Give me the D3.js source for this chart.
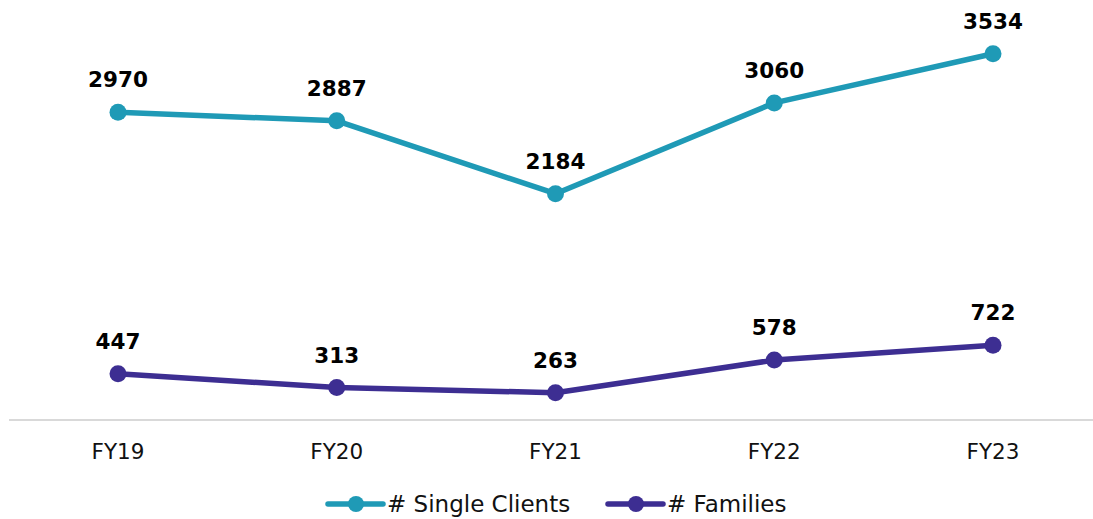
<!DOCTYPE html>
<html><head><meta charset="utf-8">
<script src="https://cdn.jsdelivr.net/npm/d3@7"></script>
<style>body{margin:0;background:#fff}svg{display:block}</style>
</head><body>
<svg id="c" width="1093" height="519"></svg>
<script>
const categories = ["FY19","FY20","FY21","FY22","FY23"];
const singleClients = [2970,2887,2184,3060,3534];
const families = [447,313,263,578,722];
const seriesNames = ["# Single Clients","# Families"];
const colors = ["#1f9ab6","#3d2e92"];

const svg = d3.select("#c");
const font = "'DejaVu Sans', sans-serif";
const x = d3.scalePoint().domain(categories).range([118,993]);
const y = d3.scaleLinear().domain([0,4000]).range([420,5.5]);

svg.append("line").attr("x1",9).attr("x2",1093).attr("y1",420).attr("y2",420)
  .attr("stroke","#d9d9d9").attr("stroke-width",2);

svg.append("g").selectAll("text").data(categories).join("text")
  .attr("x",d=>x(d)).attr("y",459).attr("text-anchor","middle")
  .attr("font-family",font).attr("font-size",21.5).attr("fill","#111").text(d=>d);

const series = [singleClients, families];
series.forEach((vals,i)=>{
  const g = svg.append("g");
  const line = d3.line().x((d,j)=>x(categories[j])).y(d=>y(d));
  g.append("path").attr("d",line(vals)).attr("fill","none")
    .attr("stroke",colors[i]).attr("stroke-width",5.5).attr("stroke-linejoin","round");
  g.selectAll("circle").data(vals).join("circle")
    .attr("cx",(d,j)=>x(categories[j])).attr("cy",d=>y(d)).attr("r",8.5).attr("fill",colors[i]);
  g.selectAll("text").data(vals).join("text")
    .attr("x",(d,j)=>x(categories[j])).attr("y",d=>y(d)-25).attr("text-anchor","middle")
    .attr("font-family",font).attr("font-weight","bold").attr("font-size",21.5).attr("fill","#000")
    .text(d=>d);
});

const legendX = [328,608];
seriesNames.forEach((n,i)=>{
  const g = svg.append("g").attr("transform",`translate(${legendX[i]},504)`);
  g.append("line").attr("x1",0).attr("x2",55).attr("stroke",colors[i]).attr("stroke-width",5.5).attr("stroke-linecap","round");
  g.append("circle").attr("cx",28).attr("r",8).attr("fill",colors[i]);
  g.append("text").attr("x",59).attr("y",8).attr("font-family",font).attr("font-size",23).attr("fill","#111").text(n);
});
</script>
</body></html>
